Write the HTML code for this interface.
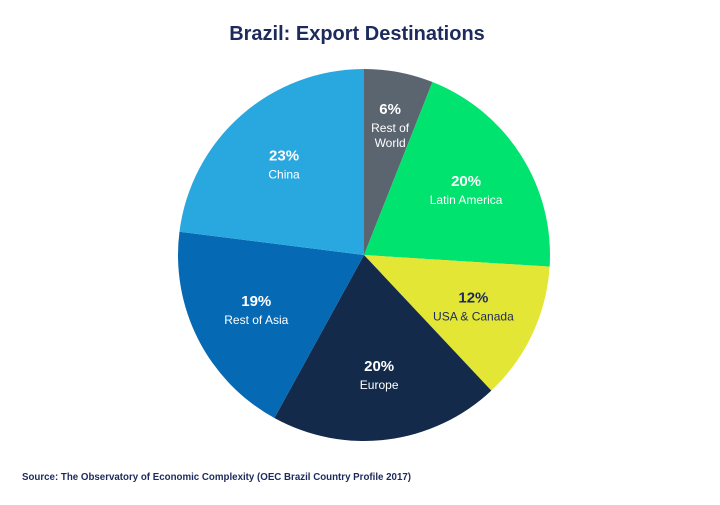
<!DOCTYPE html>
<html><head><meta charset="utf-8"><style>
body{margin:0;background:#fff;width:720px;height:500px;overflow:hidden;font-family:"Liberation Sans",sans-serif}
</style></head><body>
<svg width="720" height="500">
<text x="357" y="40" text-anchor="middle" font-size="20" font-weight="bold" fill="#1d2a5c">Brazil: Export Destinations</text>
<g id="slices"></g>
<text x="22" y="480" font-size="10" font-weight="bold" fill="#1d2a5c" textLength="389" lengthAdjust="spacingAndGlyphs">Source: The Observatory of Economic Complexity (OEC Brazil Country Profile 2017)</text>
</svg>
<script>
const categories=["Rest of World","Latin America","USA & Canada","Europe","Rest of Asia","China"];
const values=[6,20,12,20,19,23];
const colors=["#5a6570","#00e36e","#e3e635","#132a4a","#0569b4","#29a8e0"];
const cx=364,cy=255,r=186;
const g=document.getElementById('slices');
const NS="http://www.w3.org/2000/svg";
const total=values.reduce((a,b)=>a+b,0);
function pt(a,rr){return [cx+rr*Math.sin(a),cy-rr*Math.cos(a)];}
let acc=0;
values.forEach((v,i)=>{
  const a0=acc/total*2*Math.PI;acc+=v;const a1=acc/total*2*Math.PI;
  const p0=pt(a0,r),p1=pt(a1,r);
  const path=document.createElementNS(NS,'path');
  path.setAttribute('d',`M${cx},${cy}L${p0[0]},${p0[1]}A${r},${r} 0 ${a1-a0>Math.PI?1:0} 1 ${p1[0]},${p1[1]}Z`);
  path.setAttribute('fill',colors[i]);
  
  
  g.appendChild(path);
  const m=(a0+a1)/2;
  const lr=v<10?0.75*r:0.65*r;
  const lp=pt(m,lr);
  const dark=i!==2;
  const fill=dark?"#fff":"#1d2a5c";
  const lines=(categories[i]==="Rest of World")?["Rest of","World"]:[categories[i]];
  const t=document.createElementNS(NS,'text');
  t.setAttribute('x',lp[0]);t.setAttribute('y',lp[1]-4);
  t.setAttribute('text-anchor','middle');t.setAttribute('font-size','15');t.setAttribute('font-weight','bold');t.setAttribute('fill',fill);
  t.textContent=v+'%';
  
  
  g.appendChild(t);
  lines.forEach((ln,k)=>{
    const s=document.createElementNS(NS,'text');
    s.setAttribute('x',lp[0]);s.setAttribute('y',lp[1]+14+k*15);
    s.setAttribute('text-anchor','middle');s.setAttribute('font-size','12');s.setAttribute('fill',fill);
    s.textContent=ln;
    
    
    g.appendChild(s);
  });
});
</script>
</body></html>
